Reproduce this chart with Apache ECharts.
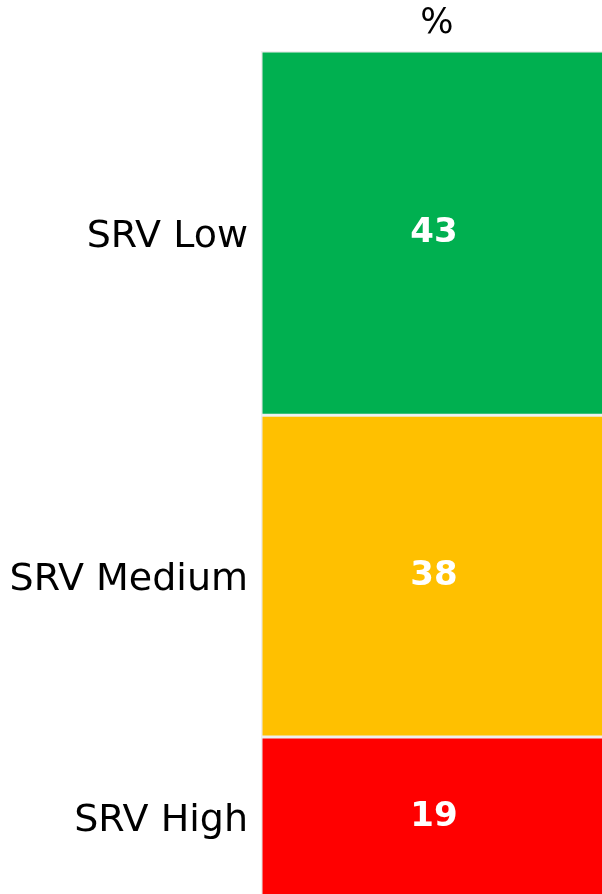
<!DOCTYPE html>
<html>
<head>
<meta charset="utf-8">
<script src="https://cdn.jsdelivr.net/npm/echarts@6/dist/echarts.min.js"></script>
<style>
  html, body { margin: 0; padding: 0; background: #fff; }
  #chart { width: 602px; height: 894px; }
</style>
</head>
<body>
<div id="chart"></div>
<script>
  var categories = ['%'];
  var levels = ['SRV Low', 'SRV Medium', 'SRV High'];
  var values = [43, 38, 19];
  var colors = ['#00b050', '#ffc000', '#ff0000'];

  // midpoints of each stacked segment, used to place the y labels
  var mids = [];
  var acc = 0;
  values.forEach(function (v) { mids.push(acc + v / 2); acc += v; });

  var chart = echarts.init(document.getElementById('chart'));
  chart.setOption({
    backgroundColor: '#fff',
    animation: false,
    grid: {
      left: 261, top: 51, width: 346, height: 847,
      outerBoundsMode: 'none'
    },
    xAxis: {
      type: 'category',
      position: 'top',
      data: categories,
      axisLine: { show: false },
      axisTick: { show: false },
      axisLabel: { color: '#000', fontSize: 35, fontFamily: 'DejaVu Sans', margin: 10, padding: [0, 0, 0, 6] }
    },
    yAxis: {
      type: 'value',
      inverse: true,
      min: 0,
      max: 100,
      splitLine: { show: false },
      axisLine: { show: false },
      axisTick: { show: false },
      axisLabel: {
        customValues: mids,
        color: '#000',
        fontSize: 38,
        fontFamily: 'DejaVu Sans',
        margin: 13,
        formatter: function (v) {
          var i = mids.indexOf(v);
          return i >= 0 ? '{t|' + levels[i] + '}' : '';
        },
        rich: {
          t: { color: '#000', fontSize: 38, fontFamily: 'DejaVu Sans', padding: [8, 0, 0, 0] }
        }
      }
    },
    series: levels.map(function (name, i) {
      return {
        name: name,
        type: 'bar',
        stack: 'total',
        barWidth: '100%',
        data: [values[i]],
        itemStyle: { color: colors[i], borderColor: '#eeeeee', borderWidth: 1.5 },
        label: {
          show: true,
          position: 'inside',
          color: '#fff',
          fontSize: 34,
          fontWeight: 'bold',
          fontFamily: 'DejaVu Sans'
        }
      };
    })
  });
</script>
</body>
</html>
